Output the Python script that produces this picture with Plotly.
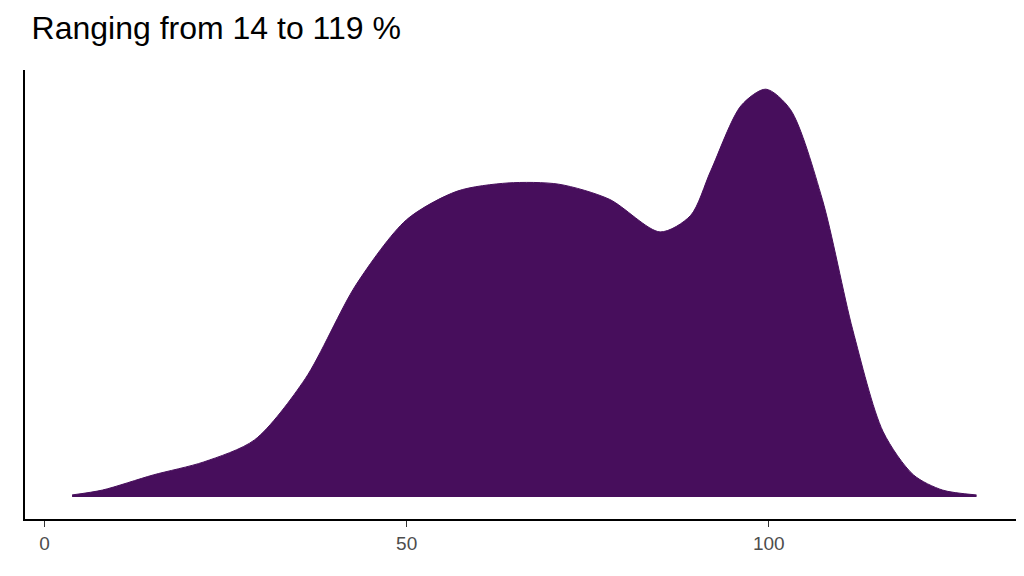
import plotly.graph_objects as go

x_vals = [3.8, 8, 15, 22, 29, 36, 43, 50, 57, 64, 71, 78, 85, 89.2, 92, 96.2, 99.6, 103, 107.4, 111.6, 115.8, 120, 124, 128.7]
density = [0.005, 0.017, 0.054, 0.086, 0.14, 0.29, 0.52, 0.68, 0.75, 0.77, 0.767, 0.73, 0.65, 0.69, 0.80, 0.96, 1.0, 0.95, 0.73, 0.41, 0.16, 0.054, 0.017, 0.005]
tick_vals = [0, 50, 100]
title = "Ranging from 14 to 119 %"

fig = go.Figure()
fig.add_trace(go.Scatter(x=x_vals, y=density,
                         mode="lines", line=dict(color="#470E5C", width=1, shape="spline", smoothing=0.8),
                         fill="tozeroy", fillcolor="#470E5C", hoverinfo="skip"))
fig.update_layout(
    width=1024, height=576, plot_bgcolor="white", paper_bgcolor="white",
    margin=dict(l=17, r=12, t=62, b=65), showlegend=False,
    title=dict(text=title, x=0.023, xanchor="left", y=0.985, yanchor="top",
               font=dict(family="Liberation Sans, Arial", size=32, color="black")),
    xaxis=dict(range=[-2.7, 134.7], tickvals=tick_vals, showgrid=False, zeroline=False,
               showline=True, linecolor="black", linewidth=2, ticks="outside", ticklen=6,
               tickcolor="#333", tickfont=dict(family="Liberation Sans, Arial", size=19, color="#4d4d4d")),
    yaxis=dict(range=[-0.054, 1.047], showticklabels=False, showgrid=False, zeroline=False,
               showline=True, linecolor="black", linewidth=2, ticks=""),
)
fig.write_html("out.html")
